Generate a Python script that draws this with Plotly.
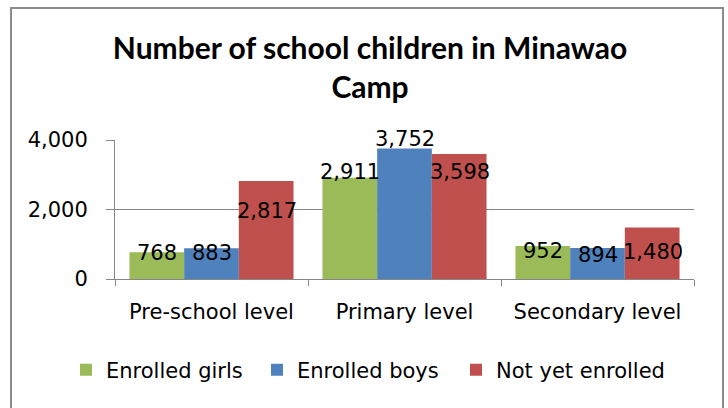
import plotly.graph_objects as go

categories = ["Pre-school level", "Primary level", "Secondary level"]
series_names = ["Enrolled girls", "Enrolled boys", "Not yet enrolled"]
enrolled_girls = [768, 2911, 952]
enrolled_boys = [883, 3752, 894]
not_yet_enrolled = [2817, 3598, 1480]
y_ticks = [0, 2000, 4000]

series_values = [enrolled_girls, enrolled_boys, not_yet_enrolled]
colors = ["#9BBB59", "#4F81BD", "#C0504D"]
# label vertical shifts (px) relative to bar top, as laid out in the reference
label_shifts = [[-1, 6, -5], [-5, 10, -7], [-30, -18, -24]]
legend_left_px = [66, 257, 456]
bar_px = 55
FONT = "DejaVu Sans"

fig = go.Figure()
legend_ids = ["legend", "legend2", "legend3"]
for name, vals, col, lid in zip(series_names, series_values, colors, legend_ids):
    fig.add_trace(go.Bar(x=categories, y=vals, name=name, legend=lid, showlegend=True,
                         marker=dict(color=col, line=dict(width=0))))

for si, vals in enumerate(series_values):
    for ci, v in enumerate(vals):
        fig.add_annotation(x=categories[ci], y=v, xref="x", yref="y",
                           text=f"{v:,}", showarrow=False,
                           xshift=(si - 1) * bar_px, yshift=label_shifts[si][ci],
                           yanchor="middle", xanchor="center",
                           font=dict(family=FONT, size=21, color="black"))

legend_common = dict(orientation="h", xref="container", yref="container",
                     xanchor="left", y=1 - 370 / 408, yanchor="middle",
                     font=dict(family=FONT, size=21), bgcolor="rgba(0,0,0,0)")
fig.update_layout(
    width=728, height=408,
    margin=dict(l=115, r=34, t=140, b=129),
    paper_bgcolor="white", plot_bgcolor="white",
    barmode="group", bargap=0.15, bargroupgap=0,
    font=dict(family=FONT, size=21, color="black"),
    showlegend=True,
    title=dict(text="<b>Number of school children in Minawao<br>Camp</b>",
               x=370 / 728, xanchor="center", xref="container",
               y=1 - 59 / 408, yanchor="middle", yref="container",
               font=dict(family="Lato", size=30, color="black")),
    legend=dict(x=legend_left_px[0] / 728, **legend_common),
    legend2=dict(x=legend_left_px[1] / 728, **legend_common),
    legend3=dict(x=legend_left_px[2] / 728, **legend_common),
)
# outer chart border
fig.add_shape(type="rect", xref="paper", yref="paper",
              x0=-104 / 579, x1=1 + 29 / 579,
              y0=-140 / 139, y1=1 + 132 / 139,
              line=dict(color="#8C8C8C", width=2), layer="below")

fig.update_xaxes(showline=True, linecolor="#868686", linewidth=1,
                 ticks="outside", tickson="boundaries", ticklen=6, tickcolor="#868686",
                 ticklabelstandoff=14, showgrid=False)
fig.update_yaxes(range=[0, 4000], tickvals=y_ticks, tickformat=",",
                 showline=True, linecolor="#868686", linewidth=1,
                 ticks="outside", ticklen=8, tickcolor="#868686",
                 showgrid=True, gridcolor="#868686", gridwidth=1,
                 ticklabelstandoff=14, zeroline=False)

fig.write_html("out.html", config={"displayModeBar": False},
               post_script="document.body.style.margin='0';")
